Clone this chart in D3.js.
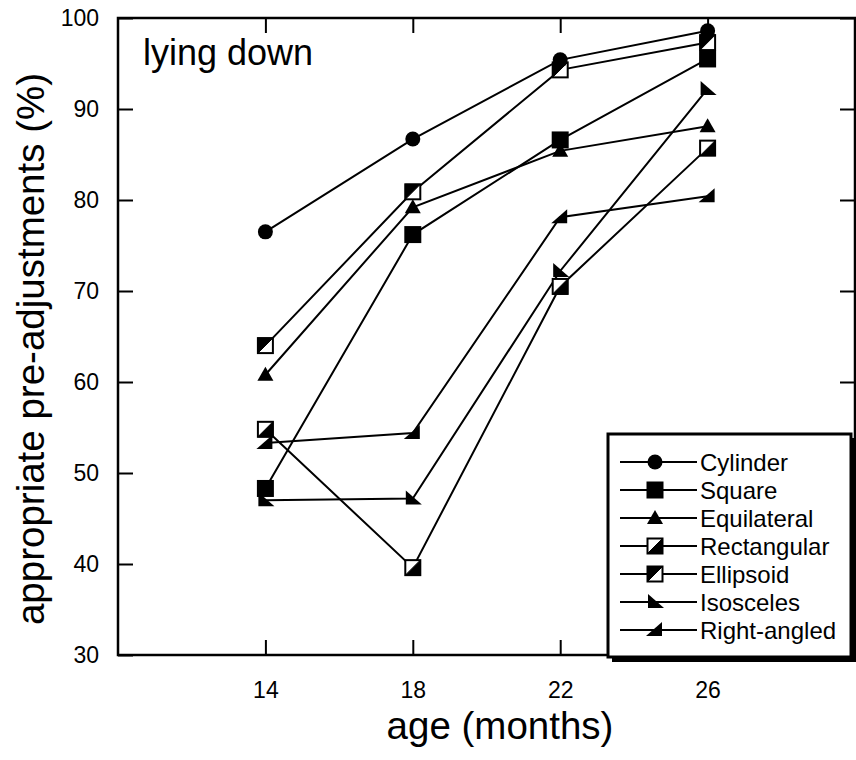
<!DOCTYPE html>
<html>
<head>
<meta charset="utf-8">
<script src="https://cdn.jsdelivr.net/npm/d3@7"></script>
<style>
  html, body { margin: 0; padding: 0; background: #fff; }
  svg { display: block; font-family: "Liberation Sans", Arial, sans-serif; }
</style>
</head>
<body>
<svg id="chart" width="856" height="760"></svg>
<script>
// ---- Data ----
const months = [14, 18, 22, 26];
const yTicks = [30, 40, 50, 60, 70, 80, 90, 100];
const seriesNames = ["Cylinder", "Square", "Equilateral", "Rectangular", "Ellipsoid", "Isosceles", "Right-angled"];
const cylinder    = [76.5, 86.7, 95.4, 98.6];
const square      = [48.3, 76.2, 86.6, 95.5];
const equilateral = [60.8, 79.2, 85.4, 88.1];
const rectangular = [54.8, 39.6, 70.5, 85.7];
const ellipsoid   = [64.0, 80.9, 94.3, 97.3];
const isosceles   = [47.0, 47.2, 72.2, 92.2];
const rightAngled = [53.3, 54.4, 78.1, 80.4];
const seriesValues = [cylinder, square, equilateral, rectangular, ellipsoid, isosceles, rightAngled];
const markerTypes = ["circle", "square", "triangle", "rect", "ellip", "isos", "right"];

const svg = d3.select("#chart");
const L = 118, R = 855, T = 18, B = 655;
const x = d3.scaleLinear().domain([10, 30]).range([L, R]);
const y = d3.scaleLinear().domain([30, 100]).range([B, T]);

// ---- Axes (ticks inward) ----
function styleAxis(g) {
  g.select(".domain").remove();
  g.selectAll(".tick line").attr("stroke", "#000").attr("stroke-width", 2);
  g.selectAll(".tick text").attr("fill", "#000").style("font-size", "23px")
    .style("font-family", "'Liberation Sans', Arial, sans-serif");
}
svg.append("g").attr("transform", `translate(0,${B})`)
  .call(d3.axisBottom(x).tickValues(months).tickSizeInner(-15).tickSizeOuter(0).tickPadding(27))
  .call(styleAxis);
svg.append("g").attr("transform", `translate(0,${T})`)
  .call(d3.axisTop(x).tickValues(months).tickSizeInner(-15).tickSizeOuter(0).tickFormat(""))
  .call(styleAxis);
svg.append("g").attr("transform", `translate(${L},0)`)
  .call(d3.axisLeft(y).tickValues(yTicks).tickSizeInner(-15).tickSizeOuter(0).tickPadding(19))
  .call(styleAxis);
svg.append("g").attr("transform", `translate(${R},0)`)
  .call(d3.axisRight(y).tickValues(yTicks).tickSizeInner(-15).tickSizeOuter(0).tickFormat(""))
  .call(styleAxis);

// frame
svg.append("rect").attr("x", L).attr("y", T).attr("width", R - L).attr("height", B - T)
  .attr("fill", "none").attr("stroke", "#000").attr("stroke-width", 2.5);

// ---- Titles ----
svg.append("text").attr("x", 143).attr("y", 65).style("font-size", "36px").text("lying down");
svg.append("text").attr("transform", "translate(44,349) rotate(-90)")
  .attr("text-anchor", "middle").style("font-size", "38.5px").text("appropriate pre-adjustments (%)");
svg.append("text").attr("x", 500).attr("y", 739).attr("text-anchor", "middle")
  .style("font-size", "38.5px").text("age (months)");

// ---- Markers ----
function drawMarker(g, type, cx, cy) {
  const s = 7.5;
  if (type === "circle") {
    g.append("circle").attr("cx", cx).attr("cy", cy).attr("r", 7.5).attr("fill", "#000");
  } else if (type === "square") {
    g.append("rect").attr("x", cx - 8.5).attr("y", cy - 8.5).attr("width", 17).attr("height", 17).attr("fill", "#000");
  } else if (type === "triangle") {
    g.append("path").attr("d", `M${cx},${cy - 8}L${cx + 8},${cy + 6}L${cx - 8},${cy + 6}Z`).attr("fill", "#000");
  } else if (type === "rect" || type === "ellip") {
    g.append("rect").attr("x", cx - s).attr("y", cy - s).attr("width", 2 * s).attr("height", 2 * s)
      .attr("fill", "#fff").attr("stroke", "#000").attr("stroke-width", 2);
    const d = type === "rect"
      ? `M${cx + s},${cy - s}L${cx + s},${cy + s}L${cx - s},${cy + s}Z`
      : `M${cx - s},${cy - s}L${cx + s},${cy - s}L${cx - s},${cy + s}Z`;
    g.append("path").attr("d", d).attr("fill", "#000").attr("stroke", "#000").attr("stroke-width", 1);
  } else if (type === "isos") {
    g.append("path").attr("d", `M${cx - 7},${cy - 8}L${cx + 9},${cy + 6}L${cx - 7},${cy + 6}Z`).attr("fill", "#000");
  } else if (type === "right") {
    g.append("path").attr("d", `M${cx + 7},${cy - 8}L${cx + 7},${cy + 6}L${cx - 9},${cy + 6}Z`).attr("fill", "#000");
  }
}

const line = d3.line().x((d, i) => x(months[i])).y(d => y(d));
const plot = svg.append("g");
// lines first
for (let k = seriesValues.length - 1; k >= 0; k--) {
  plot.append("path").datum(seriesValues[k]).attr("d", line)
    .attr("fill", "none").attr("stroke", "#000").attr("stroke-width", 2);
}
for (let k = seriesValues.length - 1; k >= 0; k--) {
  const g = plot.append("g");
  seriesValues[k].forEach((v, i) => drawMarker(g, markerTypes[k], x(months[i]), y(v)));
}

// ---- Legend ----
const lg = svg.append("g");
lg.append("rect").attr("x", 612).attr("y", 438).attr("width", 244).attr("height", 224).attr("fill", "#000");
lg.append("rect").attr("x", 608).attr("y", 434).attr("width", 243).attr("height", 223)
  .attr("fill", "#fff").attr("stroke", "#000").attr("stroke-width", 3);
const rowY = d3.scaleLinear().domain([0, 6]).range([462, 630]);
seriesNames.forEach((name, k) => {
  const cy = rowY(k);
  lg.append("line").attr("x1", 620).attr("x2", 697).attr("y1", cy).attr("y2", cy)
    .attr("stroke", "#000").attr("stroke-width", 2);
  drawMarker(lg, markerTypes[k], 655, cy);
  lg.append("text").attr("x", 700).attr("y", cy + 8.5).style("font-size", "24px").text(name);
});
</script>
</body>
</html>
